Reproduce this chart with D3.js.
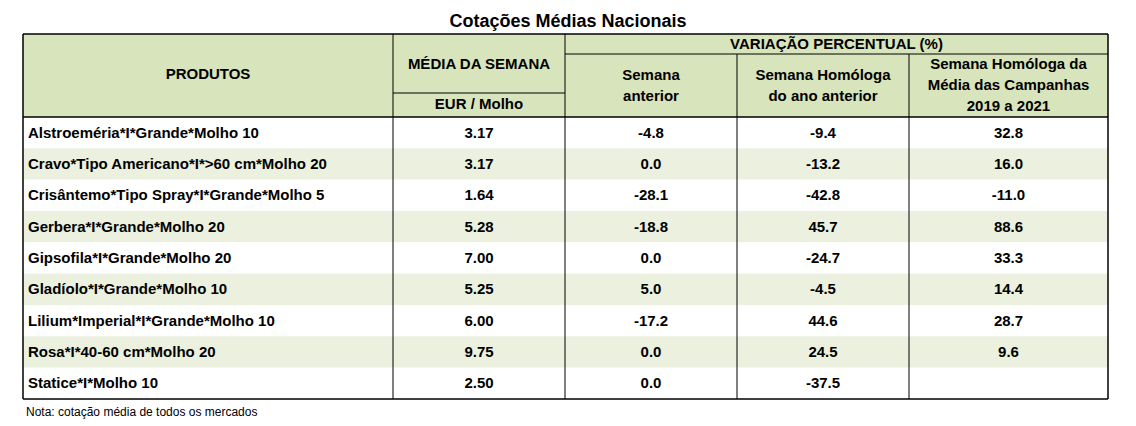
<!DOCTYPE html>
<html><head><meta charset="utf-8">
<script src="https://cdn.jsdelivr.net/npm/d3@7"></script>
<style>body{margin:0;background:#fff}</style>
</head><body><svg id="t" width="1136" height="426"></svg>
<script>
const products = ["Alstroeméria*I*Grande*Molho 10","Cravo*Tipo Americano*I*>60 cm*Molho 20","Crisântemo*Tipo Spray*I*Grande*Molho 5","Gerbera*I*Grande*Molho 20","Gipsofila*I*Grande*Molho 20","Gladíolo*I*Grande*Molho 10","Lilium*Imperial*I*Grande*Molho 10","Rosa*I*40-60 cm*Molho 20","Statice*I*Molho 10"];
const media = ["3.17","3.17","1.64","5.28","7.00","5.25","6.00","9.75","2.50"];
const semAnterior = ["-4.8","0.0","-28.1","-18.8","0.0","5.0","-17.2","0.0","0.0"];
const anoAnterior = ["-9.4","-13.2","-42.8","45.7","-24.7","-4.5","44.6","24.5","-37.5"];
const campanhas = ["32.8","16.0","-11.0","88.6","33.3","14.4","28.7","9.6",""];

const svg = d3.select('#t');
const font = 'Liberation Sans, Arial, sans-serif';
const cols = [23, 393, 565, 737, 909, 1108];
const yTop = 34, yMid = 54, yEur = 93, yHb = 117, yBottom = 399;
const y = d3.scaleBand().domain(d3.range(products.length)).range([yHb, yBottom]);
const hdr = '#d8e4bc', alt = '#ebf1de';

svg.append('text').attr('x', 568).attr('y', 27).attr('text-anchor', 'middle')
  .attr('font-family', font).attr('font-weight', 'bold').attr('font-size', 18).text('Cotações Médias Nacionais');

svg.append('rect').attr('x', cols[0]).attr('y', yTop).attr('width', cols[5] - cols[0]).attr('height', yHb - yTop).attr('fill', hdr);
svg.selectAll('rect.row').data(products).enter().append('rect')
  .attr('x', cols[0]).attr('y', (d, i) => y(i)).attr('width', cols[5] - cols[0]).attr('height', y.bandwidth())
  .attr('fill', (d, i) => i % 2 ? alt : '#fff');

const line = (x1, y1, x2, y2, w = 1) => svg.append('line').attr('x1', x1).attr('y1', y1).attr('x2', x2).attr('y2', y2)
  .attr('stroke', '#000').attr('stroke-width', w);
line(cols[0], yTop, cols[5], yTop, 1.5);
line(cols[0], yHb, cols[5], yHb, 1.5);
line(cols[0], yBottom, cols[5], yBottom, 1.5);
line(cols[2], yMid, cols[5], yMid);
line(cols[1], yEur, cols[2], yEur);
cols.forEach((c, i) => line(c, (i >= 3 && i < 5) ? yMid : yTop, c, yBottom, i === 0 || i === 5 ? 1.5 : 1));

function txt(x, yy, s, anchor = 'middle', weight = 'bold', size = 15) {
  svg.append('text').attr('x', x).attr('y', yy).attr('text-anchor', anchor).attr('dominant-baseline', 'middle')
    .attr('font-family', font).attr('font-weight', weight).attr('font-size', size).attr('fill', '#000').text(s);
}
const cx = i => (cols[i] + cols[i + 1]) / 2;
txt(cx(0), 75, 'PRODUTOS');
txt(cx(1), 65, 'MÉDIA DA SEMANA');
txt(cx(1), 105, 'EUR / Molho');
txt((cols[2] + cols[5]) / 2, 45, 'VARIAÇÃO PERCENTUAL (%)');
txt(cx(2), 76, 'Semana'); txt(cx(2), 97, 'anterior');
txt(cx(3), 76, 'Semana Homóloga'); txt(cx(3), 97, 'do ano anterior');
txt(cx(4), 65, 'Semana Homóloga da'); txt(cx(4), 86, 'Média das Campanhas'); txt(cx(4), 107, '2019 a 2021');

products.forEach((p, i) => {
  const yy = y(i) + y.bandwidth() / 2 + 1;
  txt(cols[0] + 5, yy, p, 'start');
  txt(cx(1), yy, media[i]);
  txt(cx(2), yy, semAnterior[i]);
  txt(cx(3), yy, anoAnterior[i]);
  txt(cx(4), yy, campanhas[i]);
});
txt(cols[0] + 3, 413, 'Nota: cotação média de todos os mercados', 'start', 'normal', 12);
</script></body></html>
